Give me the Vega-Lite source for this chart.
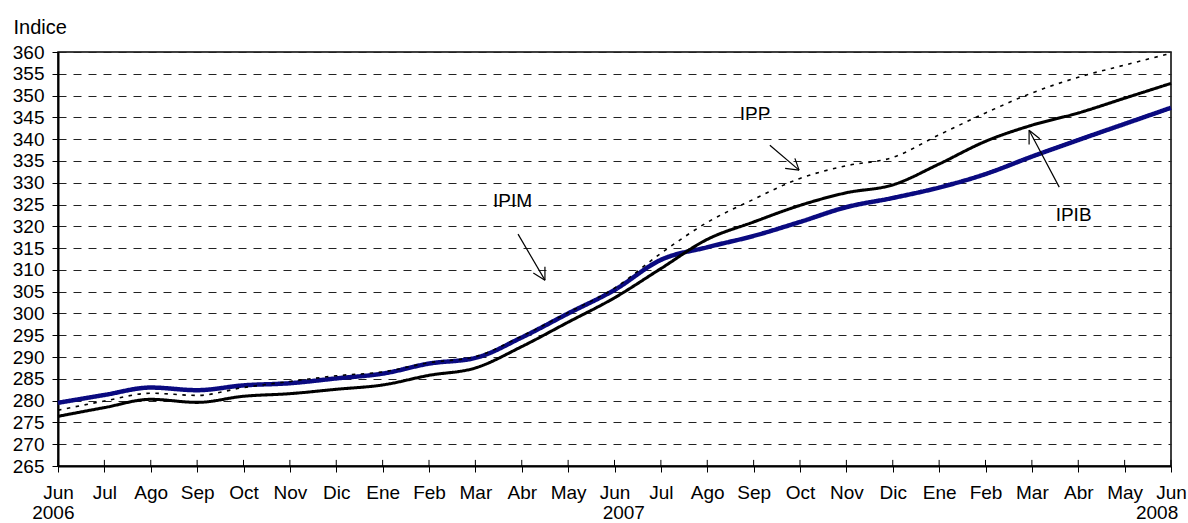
{
  "$schema": "https://vega.github.io/schema/vega-lite/v6.json",
  "width": 1113,
  "height": 414,
  "autosize": {"type": "none"},
  "padding": {"left": 58, "top": 52, "right": 17, "bottom": 57},
  "background": "white",
  "config": {
    "font": "Liberation Sans",
    "view": {"stroke": "black", "strokeWidth": 1.5},
    "text": {"font": "Liberation Sans"},
    "axis": {"labelOverlap": false, "labelFlush": false}
  },
  "datasets": {
    "series": [
      {"m": 0, "serie": "IPIB", "v": 279.5}, {"m": 1, "serie": "IPIB", "v": 281.3}, {"m": 2, "serie": "IPIB", "v": 283.0}, {"m": 3, "serie": "IPIB", "v": 282.4}, {"m": 4, "serie": "IPIB", "v": 283.5}, {"m": 5, "serie": "IPIB", "v": 284.0}, {"m": 6, "serie": "IPIB", "v": 285.1}, {"m": 7, "serie": "IPIB", "v": 286.2}, {"m": 8, "serie": "IPIB", "v": 288.5}, {"m": 9, "serie": "IPIB", "v": 289.8}, {"m": 10, "serie": "IPIB", "v": 294.5}, {"m": 11, "serie": "IPIB", "v": 300.0}, {"m": 12, "serie": "IPIB", "v": 305.4}, {"m": 13, "serie": "IPIB", "v": 312.3}, {"m": 14, "serie": "IPIB", "v": 315.2}, {"m": 15, "serie": "IPIB", "v": 317.8}, {"m": 16, "serie": "IPIB", "v": 321.0}, {"m": 17, "serie": "IPIB", "v": 324.4}, {"m": 18, "serie": "IPIB", "v": 326.5}, {"m": 19, "serie": "IPIB", "v": 328.9}, {"m": 20, "serie": "IPIB", "v": 332.0}, {"m": 21, "serie": "IPIB", "v": 336.0}, {"m": 22, "serie": "IPIB", "v": 339.8}, {"m": 23, "serie": "IPIB", "v": 343.5}, {"m": 24, "serie": "IPIB", "v": 347.2},
      {"m": 0, "serie": "IPIM", "v": 276.4}, {"m": 1, "serie": "IPIM", "v": 278.4}, {"m": 2, "serie": "IPIM", "v": 280.3}, {"m": 3, "serie": "IPIM", "v": 279.6}, {"m": 4, "serie": "IPIM", "v": 281.0}, {"m": 5, "serie": "IPIM", "v": 281.6}, {"m": 6, "serie": "IPIM", "v": 282.6}, {"m": 7, "serie": "IPIM", "v": 283.6}, {"m": 8, "serie": "IPIM", "v": 285.8}, {"m": 9, "serie": "IPIM", "v": 287.5}, {"m": 10, "serie": "IPIM", "v": 292.4}, {"m": 11, "serie": "IPIM", "v": 298.0}, {"m": 12, "serie": "IPIM", "v": 303.6}, {"m": 13, "serie": "IPIM", "v": 310.3}, {"m": 14, "serie": "IPIM", "v": 317.0}, {"m": 15, "serie": "IPIM", "v": 321.0}, {"m": 16, "serie": "IPIM", "v": 324.8}, {"m": 17, "serie": "IPIM", "v": 327.7}, {"m": 18, "serie": "IPIM", "v": 329.5}, {"m": 19, "serie": "IPIM", "v": 334.3}, {"m": 20, "serie": "IPIM", "v": 339.5}, {"m": 21, "serie": "IPIM", "v": 343.2}, {"m": 22, "serie": "IPIM", "v": 346.0}, {"m": 23, "serie": "IPIM", "v": 349.4}, {"m": 24, "serie": "IPIM", "v": 352.8},
      {"m": 0, "serie": "IPP", "v": 277.8}, {"m": 1, "serie": "IPP", "v": 279.9}, {"m": 2, "serie": "IPP", "v": 281.7}, {"m": 3, "serie": "IPP", "v": 281.2}, {"m": 4, "serie": "IPP", "v": 283.0}, {"m": 5, "serie": "IPP", "v": 284.4}, {"m": 6, "serie": "IPP", "v": 285.7}, {"m": 7, "serie": "IPP", "v": 286.6}, {"m": 8, "serie": "IPP", "v": 288.7}, {"m": 9, "serie": "IPP", "v": 290.1}, {"m": 10, "serie": "IPP", "v": 294.8}, {"m": 11, "serie": "IPP", "v": 300.2}, {"m": 12, "serie": "IPP", "v": 305.8}, {"m": 13, "serie": "IPP", "v": 313.8}, {"m": 14, "serie": "IPP", "v": 320.9}, {"m": 15, "serie": "IPP", "v": 326.2}, {"m": 16, "serie": "IPP", "v": 331.0}, {"m": 17, "serie": "IPP", "v": 333.9}, {"m": 18, "serie": "IPP", "v": 335.8}, {"m": 19, "serie": "IPP", "v": 341.0}, {"m": 20, "serie": "IPP", "v": 346.0}, {"m": 21, "serie": "IPP", "v": 350.6}, {"m": 22, "serie": "IPP", "v": 354.2}, {"m": 23, "serie": "IPP", "v": 357.0}, {"m": 24, "serie": "IPP", "v": 359.7}
    ],
    "months": [
      {"m": 0}, {"m": 1}, {"m": 2}, {"m": 3}, {"m": 4}, {"m": 5}, {"m": 6}, {"m": 7}, {"m": 8}, {"m": 9}, {"m": 10}, {"m": 11}, {"m": 12},
      {"m": 13}, {"m": 14}, {"m": 15}, {"m": 16}, {"m": 17}, {"m": 18}, {"m": 19}, {"m": 20}, {"m": 21}, {"m": 22}, {"m": 23}, {"m": 24}
    ],
    "years": [
      {"m": -0.1, "v": 252.9, "text": "2006"},
      {"m": 12.2, "v": 252.9, "text": "2007"},
      {"m": 23.7, "v": 252.9, "text": "2008"}
    ],
    "arrows": [
      {"x": 15.35, "y": 338.6, "x2": 15.98, "y2": 332.9},
      {"x": 15.68, "y": 333.3, "x2": 15.98, "y2": 332.9},
      {"x": 15.89, "y": 335.6, "x2": 15.98, "y2": 332.9},
      {"x": 9.92, "y": 318.2, "x2": 10.5, "y2": 307.65},
      {"x": 10.25, "y": 309.3, "x2": 10.5, "y2": 307.65},
      {"x": 10.5, "y": 310.7, "x2": 10.5, "y2": 307.65},
      {"x": 21.59, "y": 329.0, "x2": 20.94, "y2": 342.05},
      {"x": 20.94, "y": 338.8, "x2": 20.94, "y2": 342.05},
      {"x": 21.17, "y": 340.1, "x2": 20.94, "y2": 342.05}
    ],
    "labels": [
      {"m": 15.03, "v": 344.3, "text": "IPP"},
      {"m": 9.8, "v": 324.4, "text": "IPIM"},
      {"m": 21.9, "v": 321.25, "text": "IPIB"}
    ]
  },
  "layer": [
    {
      "data": {"name": "series"},
      "mark": {"type": "line", "interpolate": "monotone", "clip": false},
      "encoding": {
        "x": {
          "field": "m", "type": "quantitative",
          "scale": {"domain": [0, 24], "nice": false, "zero": false},
          "axis": {
            "title": null,
            "values": [0,1,2,3,4,5,6,7,8,9,10,11,12,13,14,15,16,17,18,19,20,21,22,23,24],
            "tickCount": 40,
            "labelExpr": "['Jun','Jul','Ago','Sep','Oct','Nov','Dic','Ene','Feb','Mar','Abr','May'][datum.value % 12]",
            "labelFontSize": 19,
            "labelFont": "Liberation Sans",
            "labelColor": "black",
            "labelPadding": 11,
            "labelOverlap": false,
            "labelFlush": false,
            "labelBound": false,
            "tickSize": 6,
            "tickColor": "black",
            "tickWidth": 1,
            "domainColor": "black",
            "domainWidth": 2,
            "grid": false
          }
        },
        "y": {
          "field": "v", "type": "quantitative",
          "scale": {"domain": [265, 360], "nice": false, "zero": false},
          "axis": {
            "title": "Indice",
            "titleAngle": 0,
            "titleAlign": "left",
            "titleBaseline": "alphabetic",
            "titleX": -45,
            "titleY": -18.5,
            "titleFontSize": 20,
            "titleFontWeight": "normal",
            "titleFont": "Liberation Sans",
            "titleColor": "black",
            "values": [265,270,275,280,285,290,295,300,305,310,315,320,325,330,335,340,345,350,355,360],
            "tickCount": 40,
            "labelOverlap": false,
            "labelFlush": false,
            "labelBound": false,
            "labelFontSize": 19,
            "labelFont": "Liberation Sans",
            "labelColor": "black",
            "labelPadding": 8,
            "tickSize": 6,
            "tickColor": "black",
            "domainColor": "black",
            "domainWidth": 2,
            "grid": true,
            "gridColor": "#222222",
            "gridWidth": 1,
            "gridDash": [8, 7]
          }
        },
        "color": {
          "field": "serie", "type": "nominal",
          "scale": {"domain": ["IPIB", "IPIM", "IPP"], "range": ["#0a0a80", "#000000", "#000000"]},
          "legend": null
        },
        "strokeWidth": {
          "field": "serie", "type": "nominal",
          "scale": {"domain": ["IPIB", "IPIM", "IPP"], "range": [4.5, 1.6, 3]},
          "legend": null
        },
        "strokeDash": {
          "field": "serie", "type": "nominal",
          "scale": {"domain": ["IPIB", "IPIM", "IPP"], "range": [[1, 0], [1, 0], [3.5, 5.5]]},
          "legend": null
        },
        "order": {"field": "m", "type": "quantitative"}
      }
    },
    {
      "data": {"name": "months"},
      "mark": {"type": "rule", "color": "black", "strokeWidth": 1},
      "encoding": {
        "x": {"field": "m", "type": "quantitative"},
        "y": {"datum": 265},
        "y2": {"datum": 266.4}
      }
    },
    {
      "data": {"name": "arrows"},
      "mark": {"type": "rule", "color": "black", "strokeWidth": 1.2},
      "encoding": {
        "x": {"field": "x", "type": "quantitative"},
        "y": {"field": "y", "type": "quantitative"},
        "x2": {"field": "x2"},
        "y2": {"field": "y2"}
      }
    },
    {
      "data": {"name": "labels"},
      "mark": {"type": "text", "fontSize": 19, "color": "black", "align": "center", "baseline": "alphabetic", "font": "Liberation Sans"},
      "encoding": {
        "x": {"field": "m", "type": "quantitative"},
        "y": {"field": "v", "type": "quantitative"},
        "text": {"field": "text"}
      }
    },
    {
      "data": {"name": "years"},
      "mark": {"type": "text", "fontSize": 19, "color": "black", "align": "center", "baseline": "alphabetic", "font": "Liberation Sans", "clip": false},
      "encoding": {
        "x": {"field": "m", "type": "quantitative"},
        "y": {"field": "v", "type": "quantitative"},
        "text": {"field": "text"}
      }
    }
  ]
}
